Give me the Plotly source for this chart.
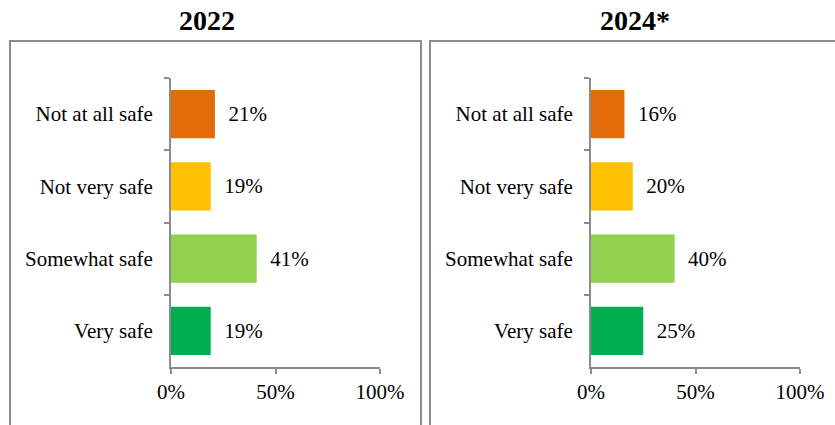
"""Perceived safety, 2022 vs 2024*: two horizontal bar panels."""

import plotly.graph_objects as go
from plotly.subplots import make_subplots

CATEGORIES = ["Not at all safe", "Not very safe", "Somewhat safe", "Very safe"]
VALUES_2022 = [21, 19, 41, 19]
VALUES_2024 = [16, 20, 40, 25]
PANEL_TITLES = ["2022", "2024*"]
BAR_COLORS = ["#E36C0A", "#FFC000", "#92D050", "#00B050"]
X_TICKS = [0, 50, 100]
X_TICK_LABELS = ["0%", "50%", "100%"]

W, H = 835, 425
FONT = "Liberation Serif, Times New Roman, serif"
AXIS_GREY = "#8C8C8C"
TEXT_SIZE = 21


def px_x(value: float) -> float:
    return value / W


def px_y(value: float) -> float:
    return 1 - value / H


fig = make_subplots(rows=1, cols=2, horizontal_spacing=0.1)

for col, values in enumerate([VALUES_2022, VALUES_2024], start=1):
    fig.add_trace(
        go.Bar(
            x=values,
            y=CATEGORIES,
            orientation="h",
            marker={"color": BAR_COLORS, "line": {"width": 0}},
            text=[f"{v}%" for v in values],
            texttemplate="  %{text}",
            textposition="outside",
            textfont={"family": FONT, "size": TEXT_SIZE, "color": "#000000"},
            cliponaxis=False,
            showlegend=False,
        ),
        row=1,
        col=col,
    )

x_domains = [[px_x(171), px_x(380)], [px_x(591), px_x(800)]]
y_domain = [px_y(367), px_y(78)]

for i, dom in enumerate(x_domains, start=1):
    suffix = "" if i == 1 else str(i)
    fig.layout[f"xaxis{suffix}"].update(
        domain=dom,
        range=[0, 100],
        automargin=False,
        tickmode="array",
        tickvals=X_TICKS,
        ticktext=X_TICK_LABELS,
        showgrid=False,
        zeroline=False,
        showline=True,
        linecolor=AXIS_GREY,
        linewidth=2,
        ticks="outside",
        ticklen=5,
        tickwidth=2,
        tickcolor=AXIS_GREY,
        tickfont={"family": FONT, "size": TEXT_SIZE, "color": "#000000"},
    )
    fig.layout[f"yaxis{suffix}"].update(
        domain=y_domain,
        automargin=False,
        categoryorder="array",
        categoryarray=CATEGORIES,
        autorange="reversed",
        showgrid=False,
        showline=True,
        linecolor=AXIS_GREY,
        linewidth=2,
        ticks="outside",
        tickson="boundaries",
        ticklen=5,
        tickwidth=2,
        tickcolor=AXIS_GREY,
        ticklabelstandoff=12,
        tickfont={"family": FONT, "size": TEXT_SIZE, "color": "#000000"},
    )

# panel frames (open at the bottom, right one runs off the page)
frames = [(10, 421), (430, 840)]
for left, right in frames:
    fig.add_shape(
        type="path",
        xref="paper",
        yref="paper",
        path=(
            f"M {px_x(left)},{px_y(430)} L {px_x(left)},{px_y(41)} "
            f"L {px_x(right)},{px_y(41)}"
            + (f" L {px_x(right)},{px_y(430)}" if right < W else "")
        ),
        line={"color": AXIS_GREY, "width": 2},
    )

for title, cx in zip(PANEL_TITLES, [207, 635]):
    fig.add_annotation(
        text=f"<b>{title}</b>",
        x=px_x(cx),
        y=px_y(20),
        xref="paper",
        yref="paper",
        xanchor="center",
        yanchor="middle",
        showarrow=False,
        font={"family": FONT, "size": 28, "color": "#000000"},
    )

fig.update_layout(
    template="none",
    width=W,
    height=H,
    bargap=0.33,
    margin={"l": 0, "r": 0, "t": 0, "b": 0, "pad": 0},
    paper_bgcolor="#FFFFFF",
    plot_bgcolor="#FFFFFF",
)

fig.write_html(
    "out.html",
    config={"displayModeBar": False},
    post_script="document.body.style.margin='0px';",
)
